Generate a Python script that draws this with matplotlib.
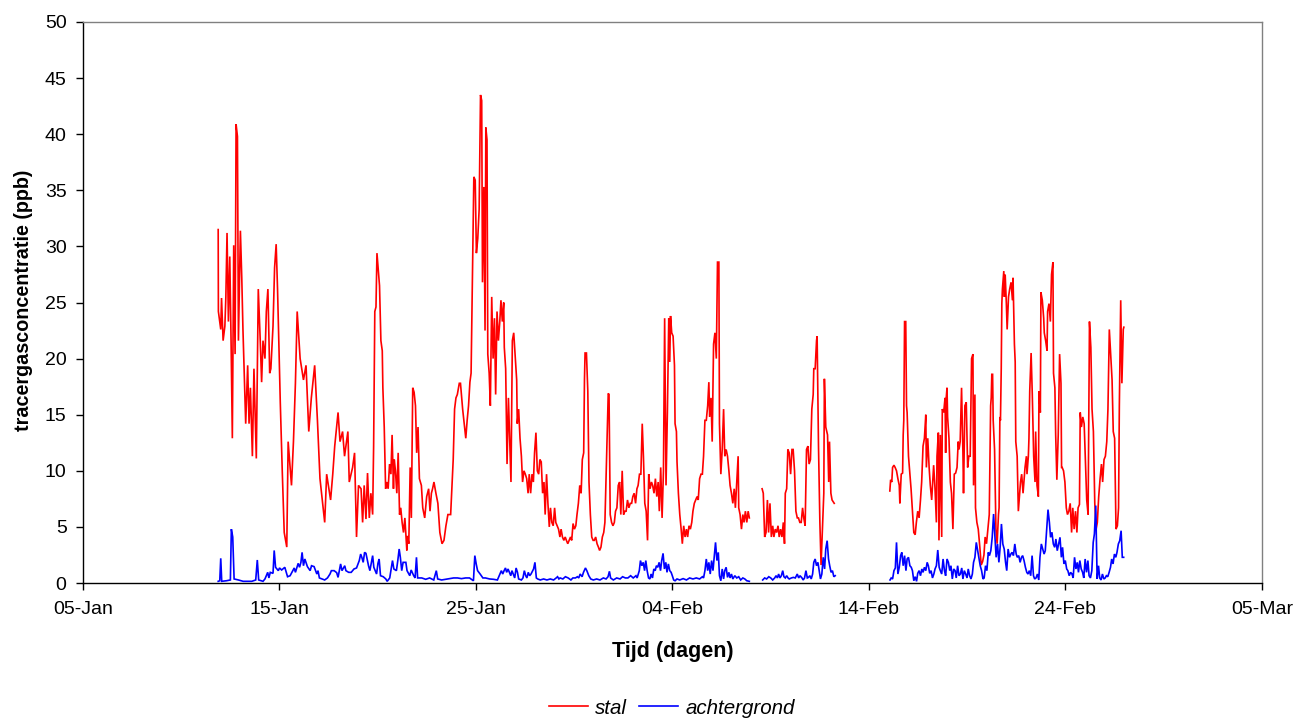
import datetime as dt

import matplotlib

matplotlib.use("Agg")
import matplotlib.dates as mdates
import matplotlib.pyplot as plt
from matplotlib.lines import Line2D

# time = days since 31-Dec-2007 (so 12.0 is 12-Jan 00:00), value = ppb
DAY0 = dt.datetime(2007, 12, 31)

stal_deel1 = [
    (11.88, 31.5), (11.89, 24.2), (11.96, 23.3), (12.01, 22.6), (12.05, 25.4), (12.13, 21.6),
    (12.22, 22.9), (12.27, 25.5), (12.33, 31.2), (12.40, 23.3), (12.47, 29.1), (12.54, 21.0),
    (12.60, 12.9), (12.67, 30.1), (12.74, 20.4), (12.79, 40.9), (12.86, 39.8), (12.91, 21.6),
    (13.01, 31.4), (13.08, 27.2), (13.14, 22.6), (13.21, 18.4), (13.28, 14.2), (13.38, 19.4),
    (13.45, 14.2), (13.52, 17.4), (13.62, 11.3), (13.70, 19.1), (13.82, 11.1), (13.92, 26.2),
    (14.02, 21.6), (14.09, 17.9), (14.16, 21.6), (14.26, 20.0), (14.33, 24.2), (14.41, 26.2),
    (14.50, 18.7), (14.56, 19.1), (14.67, 22.9), (14.75, 28.1), (14.83, 30.2), (14.90, 26.2),
    (14.97, 21.0), (15.04, 16.1), (15.14, 10.0), (15.24, 4.5), (15.37, 3.2), (15.44, 12.6),
    (15.61, 8.7), (15.71, 12.6), (15.81, 17.8), (15.90, 24.2), (16.05, 20.0), (16.22, 18.1),
    (16.35, 19.4), (16.49, 13.5), (16.62, 16.5), (16.79, 19.4), (16.93, 14.5), (17.06, 9.3),
    (17.30, 5.4), (17.40, 9.7), (17.60, 7.4), (17.71, 9.7), (17.81, 12.2), (17.98, 15.2),
    (18.08, 12.6), (18.21, 13.5), (18.31, 11.3), (18.48, 13.5), (18.55, 9.0), (18.72, 10.3),
    (18.82, 11.6), (18.92, 4.1), (19.02, 8.7),
    (19.15, 8.4), (19.23, 5.4), (19.31, 8.7), (19.40, 5.7), (19.48, 9.8), (19.57, 5.8),
    (19.65, 8.0), (19.74, 6.1), (19.79, 12.2), (19.85, 24.2), (19.91, 24.6), (19.96, 29.4),
    (20.02, 28.1), (20.09, 26.5), (20.16, 21.6), (20.23, 20.7), (20.26, 17.4), (20.33, 13.9),
    (20.40, 8.4), (20.46, 9.0), (20.53, 8.4), (20.60, 10.6), (20.67, 9.7), (20.73, 13.2),
    (20.80, 8.4), (20.84, 11.0), (20.90, 10.0), (20.97, 8.0), (21.04, 11.6), (21.11, 6.1),
    (21.17, 6.7), (21.24, 5.4), (21.31, 4.5), (21.38, 5.8), (21.48, 2.9), (21.51, 4.2),
    (21.58, 3.5), (21.65, 10.3), (21.71, 5.8), (21.78, 17.4), (21.85, 17.0), (21.92, 15.8),
    (21.98, 11.6), (22.05, 13.9), (22.12, 9.3), (22.22, 8.7), (22.29, 6.7), (22.39, 5.8),
    (22.49, 7.7), (22.59, 8.4), (22.66, 6.4), (22.73, 8.0), (22.79, 8.4), (22.86, 9.0),
    (22.96, 8.0), (23.06, 7.1), (23.16, 4.5), (23.27, 3.5), (23.37, 3.8), (23.47, 5.1),
    (23.57, 6.1), (23.71, 6.1), (23.84, 11.0), (23.91, 15.5), (23.98, 16.5), (24.05, 16.8),
    (24.15, 17.8), (24.21, 17.8), (24.32, 15.5), (24.42, 13.9), (24.48, 12.9), (24.55, 14.5),
    (24.62, 15.8), (24.69, 17.9), (24.75, 18.7), (24.82, 27.8), (24.89, 36.2), (24.96, 35.9),
    (25.02, 29.4), (25.09, 30.7), (25.16, 33.3), (25.23, 43.5), (25.29, 43.0), (25.33, 26.8),
    (25.40, 35.3), (25.46, 22.5), (25.50, 40.6), (25.56, 39.5), (25.60, 20.4), (25.67, 18.7),
    (25.73, 15.8), (25.80, 25.5), (25.87, 20.0), (25.94, 23.6), (26.00, 16.8), (26.07, 24.2),
    (26.14, 21.6), (26.21, 23.3), (26.27, 25.2), (26.34, 23.3), (26.41, 25.0), (26.44, 21.0),
    (26.51, 19.1), (26.58, 10.6), (26.65, 16.5), (26.71, 12.9), (26.78, 9.0), (26.85, 21.6),
    (26.92, 22.3),
    (27.07, 18.1), (27.10, 14.2), (27.17, 15.5), (27.24, 12.9), (27.31, 11.3), (27.37, 9.0),
    (27.44, 10.0), (27.51, 9.7), (27.58, 9.3), (27.65, 8.0), (27.71, 9.7), (27.78, 8.0),
    (27.85, 9.7), (27.92, 9.0), (27.98, 11.6), (28.05, 13.4), (28.12, 10.0), (28.19, 9.7),
    (28.25, 11.0), (28.32, 10.8), (28.39, 8.0), (28.46, 9.0), (28.52, 6.1), (28.59, 9.7),
    (28.66, 7.1), (28.73, 5.0), (28.79, 6.7), (28.86, 5.4), (28.93, 5.1), (29.00, 6.7),
    (29.06, 5.4), (29.13, 5.1), (29.20, 4.8), (29.27, 4.1), (29.33, 4.8), (29.40, 4.1),
    (29.47, 3.8), (29.54, 4.1), (29.60, 3.8), (29.67, 3.5), (29.74, 3.8), (29.81, 4.1),
    (29.87, 3.8), (29.94, 5.3), (30.01, 4.8), (30.08, 5.1), (30.14, 6.1), (30.21, 7.1),
    (30.28, 8.7), (30.35, 8.0), (30.41, 11.0), (30.48, 11.6), (30.52, 18.1), (30.55, 20.5),
    (30.62, 20.5), (30.69, 17.1), (30.75, 9.0), (30.82, 6.1), (30.89, 4.1), (30.96, 3.8),
    (31.02, 3.8), (31.09, 4.1), (31.16, 3.5), (31.23, 3.2), (31.29, 2.9), (31.36, 3.2),
    (31.43, 4.1), (31.50, 4.5), (31.56, 5.4), (31.63, 10.0), (31.70, 14.5), (31.73, 16.9),
    (31.77, 16.8), (31.83, 6.1), (31.90, 5.4), (31.97, 5.1), (32.04, 5.4), (32.10, 6.4),
    (32.17, 6.7), (32.24, 8.7), (32.31, 9.0), (32.37, 6.1), (32.44, 10.0), (32.51, 6.1),
    (32.58, 6.4), (32.64, 6.4), (32.71, 7.4), (32.78, 6.7), (32.85, 7.1), (32.92, 7.1),
    (32.98, 7.7), (33.05, 8.0), (33.12, 7.1), (33.19, 8.4), (33.25, 8.7), (33.32, 9.7),
    (33.39, 9.7), (33.46, 14.2), (33.52, 11.3), (33.59, 7.1), (33.66, 6.4), (33.73, 3.8),
    (33.79, 9.7), (33.86, 8.4), (33.93, 9.0), (33.99, 8.7), (34.06, 8.0), (34.13, 9.3),
    (34.20, 7.7), (34.27, 9.0), (34.33, 6.4), (34.40, 10.3), (34.47, 5.8), (34.54, 10.0),
    (34.60, 23.6), (34.67, 8.7), (34.74, 15.2), (34.81, 23.6),
    (34.86, 19.7), (34.90, 23.8), (34.96, 22.3), (35.03, 22.0), (35.10, 19.4), (35.13, 14.2),
    (35.20, 13.5), (35.23, 10.8), (35.30, 8.0), (35.37, 6.1), (35.44, 4.8), (35.50, 3.5),
    (35.57, 5.1), (35.64, 4.1), (35.71, 4.8), (35.77, 4.1), (35.84, 5.1), (35.91, 4.8),
    (35.98, 5.4), (36.04, 6.4), (36.11, 7.1), (36.18, 7.4), (36.25, 7.7), (36.31, 7.4),
    (36.38, 9.3), (36.45, 9.7), (36.52, 9.7), (36.58, 11.3), (36.65, 14.5), (36.72, 14.5),
    (36.79, 15.8), (36.85, 17.9), (36.89, 14.8), (36.96, 16.5), (37.02, 12.6), (37.06, 17.8),
    (37.09, 21.3), (37.16, 22.3), (37.23, 20.0), (37.29, 28.6), (37.36, 28.6), (37.39, 14.2),
    (37.46, 9.7), (37.53, 11.9), (37.60, 15.5), (37.66, 11.3), (37.73, 11.9), (37.80, 11.3),
    (37.87, 10.0), (37.93, 8.7), (38.00, 8.0), (38.07, 7.1), (38.14, 8.4), (38.20, 6.7),
    (38.27, 9.0), (38.34, 11.3), (38.37, 6.7), (38.44, 6.1), (38.51, 4.8), (38.58, 6.1),
    (38.64, 5.4), (38.71, 6.4), (38.78, 5.4), (38.85, 6.4), (38.91, 5.8),
]

stal_deel2 = [
    (39.56, 8.4), (39.62, 8.0), (39.69, 4.1), (39.76, 4.5), (39.83, 7.4), (39.89, 4.5),
    (39.96, 7.1), (40.03, 4.1), (40.10, 5.1), (40.16, 4.1), (40.23, 4.8), (40.30, 4.5),
    (40.37, 5.1), (40.43, 4.1), (40.50, 4.8), (40.57, 4.1), (40.64, 5.4), (40.70, 3.5),
    (40.74, 8.0), (40.81, 8.4), (40.87, 11.9), (40.94, 11.6), (41.01, 9.7), (41.08, 11.9),
    (41.14, 11.9), (41.21, 10.0), (41.28, 6.4), (41.35, 5.8), (41.41, 5.8), (41.48, 5.4),
    (41.55, 5.4), (41.62, 6.7), (41.68, 5.8), (41.75, 5.1), (41.82, 11.9), (41.89, 12.2),
    (41.95, 10.6), (42.02, 11.0), (42.09, 15.5), (42.16, 16.8), (42.19, 19.1), (42.26, 19.1),
    (42.33, 21.6), (42.36, 22.0), (42.43, 12.2), (42.50, 5.4), (42.56, 1.6), (42.63, 4.8),
    (42.70, 8.0), (42.73, 18.2), (42.80, 13.9), (42.89, 13.2), (42.95, 9.0), (42.99, 12.6),
    (43.06, 8.0), (43.12, 7.4), (43.23, 7.1),
]

stal_deel3 = [
    (46.06, 8.2), (46.10, 9.2), (46.16, 9.0), (46.20, 10.3), (46.27, 10.5), (46.33, 10.3),
    (46.40, 10.0), (46.47, 9.3), (46.54, 8.7), (46.57, 7.1), (46.64, 9.7), (46.71, 9.8),
    (46.74, 13.2), (46.77, 14.5), (46.81, 23.3), (46.87, 23.3), (46.91, 15.8), (46.94, 15.2),
    (47.01, 11.3), (47.08, 9.7), (47.14, 8.4), (47.21, 6.4), (47.28, 4.5), (47.35, 4.3),
    (47.41, 5.4), (47.48, 6.4), (47.55, 5.8), (47.62, 7.4), (47.68, 9.0), (47.75, 12.2),
    (47.82, 12.9), (47.89, 15.0), (47.92, 10.3), (47.99, 12.9), (48.06, 10.3), (48.12, 8.7),
    (48.19, 7.4), (48.29, 10.5), (48.36, 8.4), (48.43, 5.4), (48.46, 11.3), (48.53, 13.4),
    (48.56, 3.8), (48.63, 13.2), (48.70, 4.1), (48.73, 15.5), (48.80, 15.2), (48.87, 16.5),
    (48.90, 11.6), (48.93, 16.5), (48.97, 17.4), (49.00, 14.8), (49.07, 12.9), (49.14, 9.0),
    (49.20, 8.0), (49.27, 4.8), (49.34, 9.7), (49.41, 9.8), (49.48, 10.3), (49.54, 12.6),
    (49.58, 11.9), (49.64, 12.6), (49.71, 17.4), (49.78, 11.6), (49.81, 8.0), (49.88, 15.8),
    (49.95, 16.1), (50.02, 10.3), (50.08, 11.3), (50.15, 11.3), (50.22, 20.0), (50.29, 20.4),
    (50.32, 8.7), (50.39, 16.8), (50.42, 6.7), (50.49, 5.4), (50.56, 4.8),
    (50.64, 3.2), (50.71, 1.6), (50.78, 1.9), (50.85, 2.5), (50.91, 4.1), (50.98, 3.5),
    (51.05, 4.8), (51.12, 6.1), (51.19, 15.8), (51.22, 16.5), (51.25, 18.6), (51.29, 18.6),
    (51.32, 14.5), (51.39, 11.9), (51.46, 4.8), (51.52, 3.5), (51.59, 6.1), (51.62, 6.7),
    (51.66, 14.8), (51.69, 14.5), (51.73, 19.1), (51.76, 24.9), (51.79, 26.2), (51.86, 27.8),
    (51.89, 25.5), (51.93, 27.5), (51.99, 24.9), (52.03, 22.6), (52.10, 25.5), (52.16, 26.2),
    (52.23, 26.8), (52.30, 25.2), (52.33, 27.2), (52.40, 21.3), (52.44, 19.7), (52.47, 12.6),
    (52.54, 11.3), (52.60, 6.4), (52.67, 8.0), (52.71, 9.0), (52.77, 9.7), (52.84, 8.0),
    (52.91, 9.7), (52.94, 10.3), (53.01, 11.3), (53.04, 9.7), (53.11, 11.3), (53.14, 12.9),
    (53.18, 17.1), (53.25, 20.5), (53.31, 16.8), (53.38, 11.3), (53.45, 9.0), (53.48, 13.5),
    (53.55, 8.7), (53.62, 7.7), (53.65, 17.1), (53.72, 15.2), (53.75, 25.9), (53.82, 25.2),
    (53.89, 23.6), (53.92, 22.3), (53.99, 21.6), (54.06, 20.7), (54.09, 24.2), (54.16, 24.9),
    (54.23, 23.3), (54.29, 27.5), (54.36, 28.6), (54.39, 18.7), (54.46, 17.4), (54.50, 13.2),
    (54.56, 9.2), (54.63, 13.2), (54.70, 20.4), (54.77, 17.8), (54.80, 10.3), (54.83, 10.3),
    (54.90, 10.0), (54.97, 9.0), (55.04, 6.7), (55.10, 6.1), (55.17, 6.4), (55.24, 7.1),
    (55.31, 4.5), (55.37, 6.7), (55.44, 4.8), (55.51, 6.4), (55.58, 4.5), (55.64, 6.7),
    (55.71, 7.0), (55.75, 15.2), (55.81, 13.9), (55.88, 14.8), (55.95, 14.2), (56.02, 10.6),
    (56.08, 7.4), (56.15, 6.1), (56.22, 23.3), (56.29, 21.0), (56.35, 15.5), (56.42, 13.5),
    (56.49, 7.1), (56.56, 4.8), (56.62, 5.4), (56.69, 7.7), (56.76, 9.3), (56.83, 10.6),
    (56.89, 9.0), (56.96, 11.0), (57.03, 11.3), (57.10, 12.6), (57.16, 15.5), (57.23, 22.6),
    (57.30, 20.4), (57.37, 18.1), (57.43, 13.5), (57.50, 12.9), (57.57, 4.8), (57.64, 5.1),
    (57.70, 6.7), (57.74, 15.8), (57.81, 25.2), (57.87, 17.8), (57.94, 22.6), (57.97, 22.8),
]

achtergrond_deel1 = [
    (11.88, 0.15), (11.96, 0.2), (12.01, 2.2), (12.06, 0.15), (12.30, 0.2), (12.50, 0.27),
    (12.55, 4.8), (12.62, 4.1), (12.69, 0.36), (12.91, 0.27), (13.15, 0.15), (13.38, 0.15),
    (13.59, 0.15), (13.79, 0.27), (13.87, 2.05), (13.94, 0.27), (14.16, 0.15), (14.26, 0.36),
    (14.40, 0.95), (14.46, 0.45), (14.53, 0.95), (14.67, 0.86), (14.73, 2.9), (14.80, 1.4),
    (14.94, 1.1), (15.00, 1.34), (15.11, 1.16), (15.27, 1.4), (15.41, 0.56), (15.54, 0.65),
    (15.68, 1.1), (15.75, 1.34), (15.81, 0.95), (15.95, 1.75), (16.02, 1.4), (16.09, 1.84),
    (16.15, 2.73), (16.22, 1.54), (16.29, 2.14), (16.42, 1.46), (16.56, 1.1), (16.63, 1.54),
    (16.76, 1.46), (16.90, 0.8), (16.96, 1.1), (17.03, 0.45), (17.17, 0.36), (17.30, 0.27),
    (17.44, 0.45), (17.57, 0.8), (17.64, 1.1), (17.78, 1.1), (17.91, 0.92), (17.98, 0.5),
    (18.11, 1.7), (18.18, 1.1), (18.32, 1.54), (18.38, 1.1), (18.52, 0.95), (18.65, 0.95),
    (18.79, 1.25), (18.92, 1.34), (19.06, 2.0), (19.13, 2.58), (19.19, 2.29), (19.26, 1.84),
    (19.33, 2.73), (19.40, 2.64), (19.53, 1.54), (19.60, 1.1), (19.74, 2.44), (19.80, 1.4),
    (19.94, 0.8), (20.01, 1.75), (20.07, 2.14), (20.14, 0.65), (20.28, 0.56), (20.41, 0.36),
    (20.48, 0.15), (20.61, 0.45), (20.68, 1.25), (20.75, 2.0), (20.82, 1.25), (20.95, 1.1),
    (21.02, 2.0), (21.09, 3.03), (21.15, 2.29), (21.22, 1.1), (21.29, 1.84), (21.43, 1.84),
    (21.49, 1.1), (21.63, 0.65), (21.70, 1.16), (21.83, 0.65), (21.90, 0.45), (21.97, 2.29),
    (22.03, 0.45), (22.24, 0.45), (22.44, 0.33), (22.64, 0.45), (22.85, 0.27), (22.98, 1.1),
    (23.05, 0.36), (23.25, 0.27), (23.45, 0.33), (23.66, 0.39), (23.86, 0.45), (24.06, 0.45),
    (24.26, 0.39), (24.47, 0.45), (24.67, 0.45), (24.87, 0.2), (24.94, 2.44), (25.01, 1.7),
    (25.08, 1.1), (25.21, 0.8), (25.35, 0.45), (25.48, 0.45), (25.69, 0.36), (25.89, 0.33),
    (26.09, 0.27), (26.16, 0.56), (26.29, 1.1), (26.36, 0.8), (26.43, 1.1), (26.50, 1.34),
    (26.56, 0.95), (26.63, 1.25), (26.77, 0.65), (26.83, 1.1), (26.97, 0.45), (27.04, 1.34),
    (27.11, 0.95), (27.17, 0.36), (27.31, 0.27),
    (27.39, 0.45), (27.46, 1.1), (27.53, 0.65), (27.59, 0.45), (27.66, 0.95), (27.73, 0.65),
    (27.80, 0.8), (27.93, 1.25), (28.00, 1.84), (28.07, 0.45), (28.14, 0.36), (28.27, 0.27),
    (28.44, 0.36), (28.61, 0.27), (28.78, 0.36), (28.95, 0.27), (29.08, 0.45), (29.15, 0.56),
    (29.22, 0.36), (29.28, 0.45), (29.42, 0.36), (29.55, 0.56), (29.69, 0.45), (29.83, 0.27),
    (29.93, 0.45), (30.06, 0.45), (30.16, 0.56), (30.23, 0.45), (30.30, 0.8), (30.40, 0.56),
    (30.47, 0.95), (30.57, 1.34), (30.64, 1.1), (30.74, 0.65), (30.84, 0.36), (30.97, 0.27),
    (31.14, 0.36), (31.31, 0.27), (31.48, 0.45), (31.62, 0.36), (31.72, 0.56), (31.79, 1.04),
    (31.85, 0.45), (31.99, 0.27), (32.16, 0.45), (32.33, 0.36), (32.46, 0.56), (32.60, 0.45),
    (32.73, 0.45), (32.87, 0.65), (33.00, 0.45), (33.14, 0.65), (33.20, 0.45), (33.31, 1.1),
    (33.37, 2.0), (33.44, 1.54), (33.51, 1.84), (33.58, 1.1), (33.64, 2.0), (33.71, 1.1),
    (33.78, 0.45), (33.85, 0.36), (33.91, 0.8), (33.98, 0.45), (34.05, 1.25), (34.12, 1.1),
    (34.18, 1.54), (34.25, 1.4), (34.32, 1.84), (34.39, 1.1), (34.45, 2.0), (34.52, 2.64),
    (34.59, 1.25), (34.66, 1.84), (34.72, 0.95), (34.79, 1.7), (34.86, 1.1), (34.93, 0.95),
    (34.99, 0.65), (35.06, 0.27), (35.13, 0.2), (35.23, 0.36), (35.37, 0.27), (35.54, 0.39),
    (35.71, 0.27), (35.87, 0.45), (36.04, 0.36), (36.21, 0.45), (36.38, 0.36), (36.52, 0.56),
    (36.58, 0.45), (36.65, 1.1), (36.72, 2.14), (36.79, 1.1), (36.85, 1.84), (36.92, 0.8),
    (36.99, 2.0), (37.06, 1.1), (37.12, 2.29), (37.19, 3.62), (37.26, 2.0), (37.33, 2.73),
    (37.39, 0.65), (37.46, 0.2), (37.53, 1.25), (37.60, 0.36), (37.66, 1.1), (37.73, 1.4),
    (37.80, 0.5), (37.87, 0.95), (37.93, 0.45), (38.00, 0.8), (38.07, 0.36), (38.17, 0.65),
    (38.27, 0.45), (38.37, 0.56), (38.47, 0.27), (38.58, 0.45), (38.68, 0.36), (38.78, 0.2),
    (38.91, 0.15),
]

achtergrond_deel2 = [
    (39.59, 0.27), (39.69, 0.45), (39.79, 0.36), (39.90, 0.56), (40.00, 0.45), (40.10, 0.27),
    (40.20, 0.45), (40.27, 0.65), (40.34, 0.45), (40.40, 0.8), (40.47, 0.45), (40.54, 0.65),
    (40.61, 1.1), (40.67, 0.56), (40.74, 0.45), (40.81, 0.65), (40.88, 0.45), (40.94, 0.36),
    (41.05, 0.45), (41.15, 0.5), (41.25, 0.45), (41.35, 0.8), (41.42, 0.45), (41.49, 0.65),
    (41.59, 0.45), (41.65, 0.27), (41.72, 0.45), (41.79, 1.1), (41.86, 0.45), (41.92, 0.5),
    (41.99, 0.65), (42.06, 0.36), (42.13, 0.8), (42.19, 1.84), (42.26, 2.14), (42.33, 1.54),
    (42.40, 1.84), (42.46, 1.16), (42.53, 0.36), (42.60, 0.8), (42.67, 2.29), (42.74, 1.25),
    (42.80, 3.03), (42.87, 3.77), (42.94, 2.14), (43.00, 1.54), (43.07, 0.95), (43.14, 1.1),
    (43.21, 0.56), (43.28, 0.65),
]

achtergrond_deel3 = [
    (46.07, 0.27), (46.13, 0.45), (46.20, 0.36), (46.27, 1.1), (46.34, 1.34), (46.40, 3.62),
    (46.47, 0.8), (46.54, 1.4), (46.61, 2.44), (46.67, 2.73), (46.74, 1.54), (46.81, 2.44),
    (46.88, 1.1), (46.94, 2.14), (47.01, 2.29), (47.08, 1.54), (47.15, 1.4), (47.21, 1.1),
    (47.28, 0.2), (47.35, 0.56), (47.42, 0.15), (47.48, 0.86), (47.55, 1.1), (47.62, 0.65),
    (47.69, 1.25), (47.75, 0.95), (47.82, 1.4), (47.89, 1.1), (47.96, 1.84), (48.02, 1.54),
    (48.09, 0.86), (48.16, 1.1), (48.23, 0.45), (48.30, 0.8), (48.36, 1.25), (48.43, 1.54),
    (48.50, 2.94), (48.57, 1.4), (48.63, 1.1), (48.70, 0.8), (48.77, 2.14), (48.84, 1.1),
    (48.90, 0.65), (48.97, 2.14), (49.04, 1.84), (49.11, 1.1), (49.17, 1.54), (49.24, 0.36),
    (49.31, 1.25), (49.38, 1.1), (49.44, 0.45), (49.51, 1.54), (49.58, 0.65), (49.65, 0.8),
    (49.72, 1.34), (49.78, 0.36), (49.85, 1.1), (49.92, 0.8), (49.99, 0.45), (50.05, 1.25),
    (50.12, 0.65), (50.19, 0.36), (50.26, 0.8), (50.32, 1.84), (50.39, 2.29), (50.46, 3.62),
    (50.53, 2.88), (50.59, 2.29), (50.66, 1.54), (50.73, 1.1), (50.80, 0.36), (50.86, 0.45),
    (50.93, 1.54), (51.00, 1.1), (51.07, 2.73), (51.13, 2.44), (51.20, 2.88), (51.27, 4.07),
    (51.34, 6.15), (51.40, 4.37), (51.47, 2.29), (51.54, 3.48), (51.61, 1.84), (51.68, 3.33),
    (51.74, 5.26), (51.81, 3.48), (51.88, 3.03), (51.95, 1.84), (52.01, 1.1), (52.08, 3.03),
    (52.15, 2.29), (52.22, 2.58), (52.28, 2.73), (52.35, 2.44), (52.42, 3.48), (52.49, 2.58),
    (52.55, 2.29), (52.62, 2.44), (52.69, 1.84), (52.76, 2.29), (52.82, 2.44), (52.89, 2.0),
    (52.96, 1.4), (53.03, 0.95), (53.09, 0.8), (53.16, 1.1), (53.23, 0.65), (53.30, 2.44),
    (53.37, 0.65), (53.43, 0.36), (53.50, 0.45), (53.57, 0.8), (53.64, 0.27), (53.70, 2.29),
    (53.77, 3.48), (53.84, 3.03), (53.91, 2.58), (53.97, 2.88), (54.04, 4.66), (54.11, 6.54),
    (54.18, 5.4), (54.24, 4.07), (54.31, 4.52), (54.38, 3.48), (54.45, 3.18), (54.51, 3.92),
    (54.58, 2.88), (54.65, 3.48), (54.72, 4.07), (54.79, 2.29), (54.85, 3.18), (54.92, 1.7),
    (54.99, 2.0), (55.06, 1.25), (55.12, 1.1), (55.19, 0.65), (55.26, 0.95), (55.33, 0.8),
    (55.39, 0.45), (55.46, 2.29), (55.53, 1.25), (55.60, 1.84), (55.66, 0.95), (55.73, 2.0),
    (55.80, 1.25), (55.87, 0.95), (55.93, 0.45), (56.00, 2.14), (56.07, 0.95), (56.14, 2.0),
    (56.20, 0.65), (56.27, 0.45), (56.34, 1.1), (56.41, 3.62), (56.47, 4.37), (56.54, 6.9),
    (56.61, 0.36), (56.68, 1.54), (56.74, 0.45), (56.81, 0.27), (56.88, 0.8), (56.95, 0.36),
    (57.02, 0.45), (57.08, 0.65), (57.15, 0.56), (57.22, 0.95), (57.29, 1.4), (57.35, 2.14),
    (57.42, 1.7), (57.49, 2.58), (57.56, 2.29), (57.62, 2.73), (57.69, 3.48), (57.76, 3.77),
    (57.83, 4.66), (57.89, 2.29), (57.96, 2.29),
]

tick_dates = [
    dt.datetime(2008, 1, 5), dt.datetime(2008, 1, 15), dt.datetime(2008, 1, 25),
    dt.datetime(2008, 2, 4), dt.datetime(2008, 2, 14), dt.datetime(2008, 2, 24),
    dt.datetime(2008, 3, 5),
]

RED = "#FF0000"
BLUE = "#0000FF"
FONT = "Liberation Sans"


def to_xy(points):
    base = mdates.date2num(DAY0)
    xs = [base + t for t, _ in points]
    ys = [v for _, v in points]
    return xs, ys


def main() -> None:
    plt.rcParams["font.family"] = FONT

    fig = plt.figure(figsize=(13.14, 7.2), dpi=100)
    ax = fig.add_axes([83 / 1314, 1 - 583 / 720, (1262 - 83) / 1314, (583 - 22) / 720])

    for seg in (stal_deel1, stal_deel2, stal_deel3):
        xs, ys = to_xy(seg)
        ax.plot(xs, ys, color=RED, linewidth=1.2, solid_joinstyle="miter")
    for seg in (achtergrond_deel1, achtergrond_deel2, achtergrond_deel3):
        xs, ys = to_xy(seg)
        ax.plot(xs, ys, color=BLUE, linewidth=1.2, solid_joinstyle="miter")

    ax.set_xlim(mdates.date2num(tick_dates[0]), mdates.date2num(tick_dates[-1]))
    ax.set_ylim(0, 50)
    ax.set_yticks(range(0, 51, 5))
    ax.set_xticks([mdates.date2num(d) for d in tick_dates])
    ax.xaxis.set_major_formatter(mdates.DateFormatter("%d-%b"))
    ax.tick_params(axis="both", direction="out", length=4.8, width=1, labelsize=14)
    ax.tick_params(axis="y", pad=7)
    ax.tick_params(axis="x", pad=8)

    for side in ("left", "bottom"):
        ax.spines[side].set_color("black")
        ax.spines[side].set_linewidth(1.0)
    for side in ("top", "right"):
        ax.spines[side].set_color("#808080")
        ax.spines[side].set_linewidth(1.0)

    fig.text(24 / 1314, 1 - 300 / 720, "tracergasconcentratie (ppb)", rotation=90,
             ha="center", va="center", fontsize=14.2, fontweight="bold")
    fig.text(673 / 1314, 1 - 652 / 720, "Tijd (dagen)", ha="center", va="center",
             fontsize=15.5, fontweight="bold")

    handles = [Line2D([], [], color=RED, linewidth=1.2), Line2D([], [], color=BLUE, linewidth=1.2)]
    fig.legend(handles, ["stal", "achtergrond"], loc="center", bbox_to_anchor=(672 / 1314, 1 - 708 / 720),
               ncol=2, frameon=False, handlelength=1.9, handletextpad=0.35, columnspacing=0.6,
               prop={"family": FONT, "style": "italic", "size": 14.8})

    fig.savefig("out.png", dpi=100)
    plt.close(fig)


if __name__ == "__main__":
    main()
